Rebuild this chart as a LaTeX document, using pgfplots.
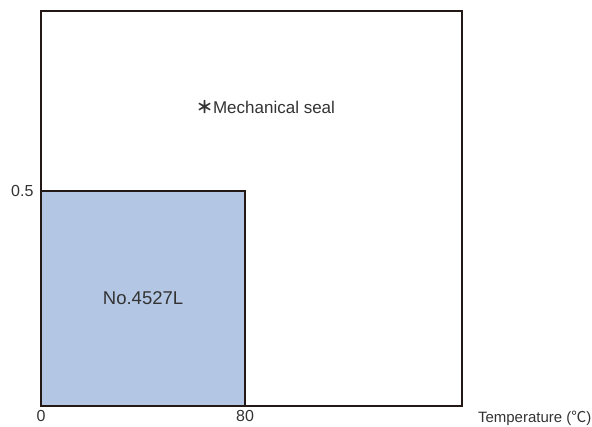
\documentclass[border=0pt]{standalone}
\usepackage{fontspec}
\setmainfont{Liberation Sans}
\newfontfamily\cjk{Noto Sans CJK JP}
\usepackage{pgfplots}
\pgfplotsset{compat=1.18}
\definecolor{ink}{HTML}{231815}
\definecolor{fillblue}{HTML}{B3C6E3}
\definecolor{txt}{HTML}{333333}
\begin{document}
\begin{tikzpicture}[x=1pt,y=1pt]
\begin{axis}[
  at={(0,0)}, anchor=south west,
  scale only axis, width=421pt, height=395pt,
  xmin=0, xmax=165, ymin=0, ymax=0.9186,
  axis line style={ink, line width=2pt},
  xtick={0,80}, xticklabels={0,80},
  ytick={0.5}, yticklabels={0.5},
  major tick length=0pt,
  tick label style={font=\fontsize{16}{18}\selectfont, text=txt},
  xticklabel style={yshift=-1pt},
  yticklabel style={xshift=-4pt},
  clip=false,
]
\addplot[fill=fillblue, draw=ink, line width=2pt] coordinates {(0,0) (0,0.5) (80,0.5) (80,0)} -- cycle;
\node[font=\fontsize{17}{19}\selectfont, text=txt] at (axis cs:88,0.695) {{\cjk\bfseries ＊}Mechanical seal};
\node[font=\fontsize{18.5}{20}\selectfont, text=txt] at (axis cs:40,0.25) {No.4527L};
\node[font=\fontsize{15}{17}\selectfont, text=txt, anchor=center] at (axis cs:193.5,-0.029) {Temperature ({\cjk ℃})};
\end{axis}
\pgfresetboundingbox
\path (-41,-21) rectangle (551,406);
\end{tikzpicture}
\end{document}
